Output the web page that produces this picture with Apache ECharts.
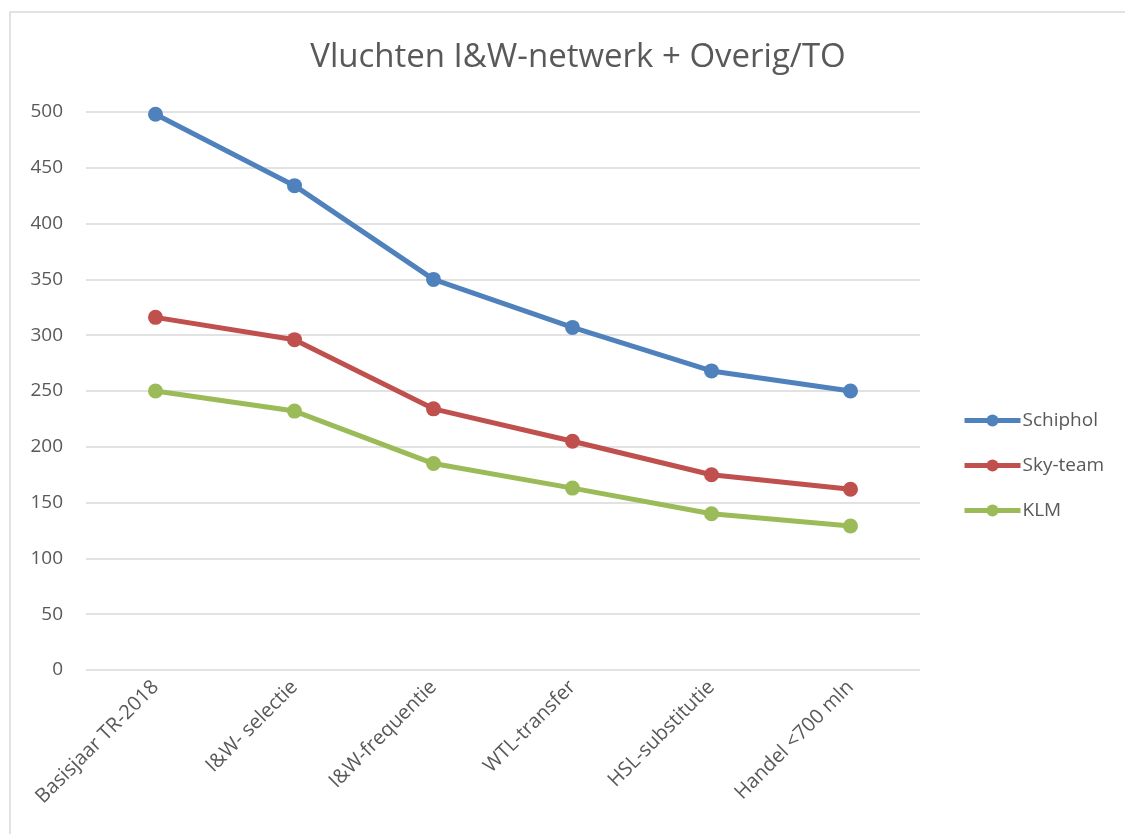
<!DOCTYPE html>
<html>
<head>
<meta charset="utf-8">
<script src="https://cdn.jsdelivr.net/npm/echarts@6/dist/echarts.min.js"></script>
<style>
  html, body { margin: 0; padding: 0; background: #fff; }
  #chart { width: 1125px; height: 834px; }
</style>
</head>
<body>
<div id="chart"></div>
<script>
// categorieën en reeksen
const categories = ['Basisjaar TR-2018', 'I&W- selectie', 'I&W-frequentie', 'WTL-transfer', 'HSL-substitutie', 'Handel <700 mln'];
const schiphol = [498, 434, 350, 307, 268, 250];
const skyTeam = [316, 296, 234, 205, 175, 162];
const klm = [250, 232, 185, 163, 140, 129];
const yTicks = { min: 0, max: 500, interval: 50 };

const chart = echarts.init(document.getElementById('chart'));
const textColor = '#595959';
const font = 'Open Sans';

function lineSeries(name, data, color) {
  return {
    name: name,
    type: 'line',
    data: data,
    symbol: 'circle',
    symbolSize: 15,
    lineStyle: { width: 5, color: color },
    itemStyle: { color: color },
    z: 3
  };
}

chart.setOption({
  animation: false,
  title: {
    text: 'Vluchten I&W-netwerk + Overig/TO',
    left: 573,
    top: 36,
    textAlign: 'center',
    textStyle: { fontFamily: font, fontSize: 33, fontWeight: 'normal', color: textColor }
  },
  graphic: [{
    type: 'rect',
    shape: { x: 10, y: 12, width: 1130, height: 840 },
    style: { fill: 'none', stroke: '#d9d9d9', lineWidth: 1.5 },
    silent: true
  }],
  legend: {
    orient: 'vertical',
    left: 957,
    top: 406,
    itemGap: 26,
    itemWidth: 56,
    itemHeight: 15,
    lineStyle: { width: 5 },
    textStyle: { fontFamily: font, fontSize: 19, color: textColor, padding: [0, 0, 0, -3] },
    data: ['Schiphol', 'Sky-team', 'KLM']
  },
  grid: { left: 86, right: 205, top: 112, bottom: 164, containLabel: false },
  xAxis: {
    type: 'category',
    data: categories,
    boundaryGap: true,
    axisLine: { show: false },
    axisTick: { show: false },
    axisLabel: {
      rotate: 45,
      interval: 0,
      margin: 14,
      fontFamily: font,
      fontSize: 20,
      color: textColor
    }
  },
  yAxis: {
    type: 'value',
    min: yTicks.min,
    max: yTicks.max,
    interval: yTicks.interval,
    axisLine: { show: false },
    axisTick: { show: false },
    axisLabel: { fontFamily: font, fontSize: 19, color: textColor, margin: 23 },
    splitLine: { lineStyle: { color: '#d9d9d9', width: 1.5 } }
  },
  series: [
    lineSeries('Schiphol', schiphol, '#4F81BD'),
    lineSeries('Sky-team', skyTeam, '#C0504D'),
    lineSeries('KLM', klm, '#9BBB59')
  ]
});
</script>
</body>
</html>
